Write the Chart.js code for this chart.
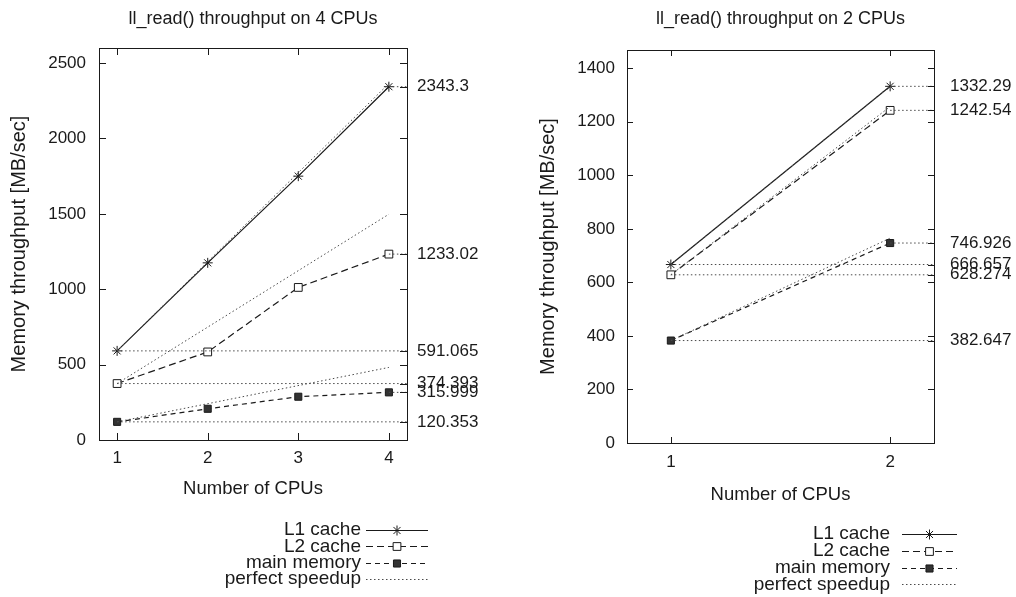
<!DOCTYPE html>
<html>
<head>
<meta charset="utf-8">
<script src="https://cdn.jsdelivr.net/npm/chart.js@4.4.1/dist/chart.umd.min.js"></script>
<style>
html, body { margin: 0; padding: 0; background: #fff; }
#wrap { position: relative; width: 1016px; height: 597px; }
canvas { position: absolute; top: 0; }
#left { left: 0; }
#right { left: 508px; }
</style>
</head>
<body>
<div id="wrap">
  <canvas id="left" width="508" height="597"></canvas>
  <canvas id="right" width="508" height="597"></canvas>
</div>
<script>
"use strict";

// run on 4 CPUs
let cpus4 = [1, 2, 3, 4];
let l1Cache4 = [591.065, 1175, 1750, 2343.3];
let l2Cache4 = [374.393, 584, 1012, 1233.02];
let mainMem4 = [120.353, 207, 287, 315.999];
let speedupL1_4 = [591.065, 2364.26];
let speedupL2_4 = [374.393, 1497.57];
let speedupMem4 = [120.353, 481.41];
let yTicks4 = [0, 500, 1000, 1500, 2000, 2500];

// run on 2 CPUs
let cpus2 = [1, 2];
let l1Cache2 = [666.657, 1332.29];
let l2Cache2 = [628.274, 1242.54];
let mainMem2 = [382.647, 746.926];
let speedupL1_2 = [666.657, 1333.31];
let speedupL2_2 = [628.274, 1256.55];
let speedupMem2 = [382.647, 765.29];
let yTicks2 = [0, 200, 400, 600, 800, 1000, 1200, 1400];

let legendNames = ["L1 cache", "L2 cache", "main memory", "perfect speedup"];

const INK = "#1a1a1a";
const DOTS = "#4a4a4a";
const FAMILY = "'Liberation Sans', Arial, sans-serif";
Chart.defaults.font.family = FAMILY;
Chart.defaults.color = INK;

function pts(xs, ys) { return xs.map((x, i) => ({ x: x, y: ys[i] })); }
function last(a) { return a[a.length - 1]; }

// gnuplot look: frame, inward tics, legend with line samples
const gnuFrame = {
    id: "gnuFrame",
    afterDraw(chart, args, o) {
        const ctx = chart.ctx, a = chart.chartArea;
        const sx = chart.scales.x, sy = chart.scales.y, sy2 = chart.scales.y2;
        ctx.save();
        ctx.strokeStyle = INK;
        ctx.lineWidth = 1;
        ctx.setLineDash([]);
        ctx.strokeRect(Math.round(a.left) + .5, Math.round(a.top) + .5, Math.round(a.right - a.left), Math.round(a.bottom - a.top));
        ctx.beginPath();
        sx.ticks.forEach(tk => {
            let p = Math.round(sx.getPixelForValue(tk.value)) + .5;
            ctx.moveTo(p, a.bottom); ctx.lineTo(p, a.bottom - o.tick);
            ctx.moveTo(p, a.top); ctx.lineTo(p, a.top + o.tick);
        });
        sy.ticks.forEach(tk => {
            let p = Math.round(sy.getPixelForValue(tk.value)) + .5;
            ctx.moveTo(a.left, p); ctx.lineTo(a.left + o.tick, p);
            ctx.moveTo(a.right, p); ctx.lineTo(a.right - o.tick, p);
        });
        sy2.ticks.forEach(tk => {
            let p = Math.round(sy2.getPixelForValue(tk.value)) + .5;
            ctx.moveTo(a.right, p); ctx.lineTo(a.right - o.tick, p);
        });
        ctx.stroke();

        ctx.font = "19px " + FAMILY;
        ctx.textAlign = "right";
        ctx.textBaseline = "middle";
        chart.data.datasets.filter(d => d.legendRow !== undefined).forEach(d => {
            let y = o.legendTop + d.legendRow * o.rowH;
            ctx.fillStyle = INK;
            ctx.fillText(d.label, o.legendRight, y);
            ctx.save();
            ctx.strokeStyle = d.borderColor;
            ctx.lineWidth = d.borderWidth;
            ctx.setLineDash(d.borderDash || []);
            ctx.beginPath();
            ctx.moveTo(o.sample[0], Math.round(y) + .5);
            ctx.lineTo(o.sample[1], Math.round(y) + .5);
            ctx.stroke();
            ctx.restore();
            if (d.pointRadius > 0) {
                ctx.save();
                ctx.setLineDash([]);
                ctx.strokeStyle = d.borderColor;
                ctx.fillStyle = d.pointBackgroundColor;
                Chart.helpers.drawPoint(ctx, { pointStyle: d.pointStyle, radius: d.pointRadius, borderWidth: 1, rotation: 0 },
                    (o.sample[0] + o.sample[1]) / 2, Math.round(y) + .5);
                ctx.restore();
            }
        });
        ctx.restore();
    }
};

function MakeChart(id, g) {
    let xs = g.cpus;
    let series = [g.l1, g.l2, g.mem];
    let y2Vals = [];
    series.forEach(s => { y2Vals.push(s[0]); y2Vals.push(last(s)); });

    let datasets = [];
    // reference lines at start value and end value
    series.forEach(s => {
        datasets.push({ data: [{ x: xs[0], y: s[0] }, { x: g.xMax, y: s[0] }] });
        datasets.push({ data: [{ x: last(xs), y: last(s) }, { x: g.xMax, y: last(s) }] });
    });
    datasets.forEach(d => {
        d.label = "";
        d.borderColor = DOTS;
        d.borderWidth = 1;
        d.borderDash = [1.5, 2.5];
        d.pointRadius = 0;
    });
    let speed = [g.sL1, g.sL2, g.sMem];
    speed.forEach((s, i) => {
        let d = { label: legendNames[3], data: [{ x: xs[0], y: s[0] }, { x: last(xs), y: s[1] }],
            borderColor: DOTS, borderWidth: 1, borderDash: [1.5, 2.5], pointRadius: 0 };
        if (i === 0) d.legendRow = 3;
        datasets.push(d);
    });
    datasets.push({ label: legendNames[2], legendRow: 2, data: pts(xs, g.mem), borderColor: INK, borderWidth: 1.2,
        borderDash: [5, 4], pointStyle: "rect", pointRadius: 5, pointBackgroundColor: "#333", pointBorderColor: INK, pointBorderWidth: 1 });
    datasets.push({ label: legendNames[1], legendRow: 1, data: pts(xs, g.l2), borderColor: INK, borderWidth: 1.2,
        borderDash: [7, 4], pointStyle: "rect", pointRadius: 5.5, pointBackgroundColor: "#fff", pointBorderColor: INK, pointBorderWidth: 1 });
    datasets.push({ label: legendNames[0], legendRow: 0, data: pts(xs, g.l1), borderColor: INK, borderWidth: 1.2,
        borderDash: [], pointStyle: "star", pointRadius: 5, pointBackgroundColor: INK, pointBorderColor: INK, pointBorderWidth: 1 });

    let tickFont = { size: 17 };
    let textFont = { size: 18.5 };

    return new Chart(document.getElementById(id), {
        type: "line",
        data: { datasets: datasets },
        plugins: [gnuFrame],
        options: {
            responsive: false,
            animation: false,
            devicePixelRatio: 1,
            events: [],
            layout: { padding: { top: 0, left: 0, right: 0, bottom: g.padBottom } },
            plugins: {
                legend: { display: false },
                tooltip: { enabled: false },
                title: { display: true, fullSize: false, text: g.title, color: INK, font: { size: 18, weight: "normal" },
                    padding: { top: g.titleTop, bottom: g.titleBottom } },
                gnuFrame: { tick: g.tick, legendTop: g.legendTop, rowH: g.rowH, legendRight: g.legendRight, sample: g.sample }
            },
            scales: {
                x: {
                    type: "linear", min: 0.8, max: g.xMax,
                    afterFit: s => { s.height = g.xHeight; },
                    afterBuildTicks: s => { s.ticks = xs.map(v => ({ value: v })); },
                    grid: { display: false, drawTicks: false }, border: { display: false },
                    ticks: { font: tickFont, color: INK, padding: g.xTickPad },
                    title: { display: true, text: "Number of CPUs", font: textFont, color: INK, padding: { top: 0, bottom: g.xTitlePad } }
                },
                y: {
                    type: "linear", position: "left", min: 0, max: g.yMax,
                    afterFit: s => { s.width = g.yWidth; },
                    afterBuildTicks: s => { s.ticks = g.yTicks.map(v => ({ value: v })); },
                    grid: { display: false, drawTicks: false }, border: { display: false },
                    ticks: { font: tickFont, color: INK, padding: g.yTickPad, callback: v => String(v) },
                    title: { display: true, text: "Memory throughput [MB/sec]", font: { size: 20 }, color: INK, padding: { top: g.yTitlePad, bottom: 0 } }
                },
                y2: {
                    type: "linear", position: "right", min: 0, max: g.yMax,
                    afterFit: s => { s.width = g.y2Width; },
                    afterBuildTicks: s => { s.ticks = y2Vals.map(v => ({ value: v })); },
                    grid: { display: false, drawTicks: false }, border: { display: false },
                    ticks: { font: tickFont, color: INK, padding: g.y2TickPad, autoSkip: false, callback: v => String(v) }
                }
            }
        }
    });
}

MakeChart("left", {
    title: "ll_read() throughput on 4 CPUs",
    cpus: cpus4, l1: l1Cache4, l2: l2Cache4, mem: mainMem4,
    sL1: speedupL1_4, sL2: speedupL2_4, sMem: speedupMem4,
    yTicks: yTicks4, yMax: 2600, xMax: 4.2,
    yWidth: 99, y2Width: 101, xHeight: 62, padBottom: 95,
    titleTop: 8, titleBottom: 18.4, yTitlePad: 7, yTickPad: 13, y2TickPad: 10, xTickPad: 8, xTitlePad: 2,
    tick: 7, legendTop: 530, rowH: 16.3, legendRight: 361, sample: [366, 428]
});

MakeChart("right", {
    title: "ll_read() throughput on 2 CPUs",
    cpus: cpus2, l1: l1Cache2, l2: l2Cache2, mem: mainMem2,
    sL1: speedupL1_2, sL2: speedupL2_2, sMem: speedupMem2,
    yTicks: yTicks2, yMax: 1468, xMax: 2.2,
    yWidth: 119, y2Width: 82, xHeight: 66, padBottom: 88,
    titleTop: 8, titleBottom: 20.4, yTitlePad: 28, yTickPad: 12, y2TickPad: 16, xTickPad: 9, xTitlePad: 3,
    tick: 6, legendTop: 534, rowH: 16.8, legendRight: 382, sample: [394, 449]
});
</script>
</body>
</html>
